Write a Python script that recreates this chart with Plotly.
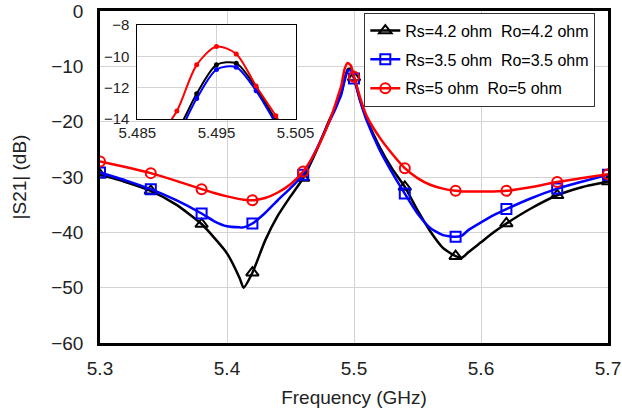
import plotly.graph_objects as go

# ---------------- data ----------------
freq = [5.30, 5.32, 5.34, 5.36, 5.38, 5.39, 5.40, 5.41, 5.413, 5.42, 5.43, 5.44, 5.45, 5.46,
        5.47, 5.48, 5.485, 5.4875, 5.49, 5.4925, 5.495, 5.4975, 5.50, 5.5025, 5.505, 5.51,
        5.52, 5.53, 5.54, 5.55, 5.56, 5.57, 5.58, 5.585, 5.59, 5.60, 5.61, 5.62, 5.64, 5.66,
        5.68, 5.70]

s21_rs42 = [-29.6, -30.9, -32.5, -35.0, -38.5, -41.0, -43.8, -48.3, -50.0, -47.3, -41.5, -37.0,
            -33.5, -30.2, -25.5, -20.0, -17.6, -16.2, -14.8, -12.4, -10.55, -10.45, -12.0, -14.1,
            -16.2, -19.5, -24.5, -28.5, -31.8, -36.0, -39.8, -42.8, -44.3, -44.6, -43.6, -41.8,
            -40.0, -38.4, -35.6, -33.3, -31.8, -30.8]

s21_rs35 = [-29.2, -30.6, -32.2, -34.2, -36.6, -38.0, -38.9, -39.1, -39.1, -38.4, -36.5, -34.2,
            -32.0, -29.6, -25.2, -20.3, -17.9, -16.5, -15.1, -12.7, -10.85, -10.7, -12.2, -14.3,
            -16.4, -19.8, -25.0, -29.2, -33.0, -36.6, -39.2, -40.5, -40.8, -40.6, -39.6, -38.2,
            -36.9, -35.8, -33.8, -32.1, -30.8, -29.6]

s21_rs5 = [-27.2, -28.2, -29.3, -30.7, -32.2, -32.9, -33.5, -34.0, -34.1, -34.2, -33.8, -32.8,
           -31.3, -29.0, -25.3, -20.3, -17.1, -15.3, -13.5, -10.55, -9.38, -9.85, -11.9, -13.8,
           -15.8, -19.0, -22.8, -25.8, -28.4, -30.2, -31.4, -32.1, -32.5, -32.6, -32.6, -32.6,
           -32.6, -32.5, -31.8, -30.9, -30.2, -29.5]

marker_freq = [5.30, 5.34, 5.38, 5.42, 5.46, 5.50, 5.54, 5.58, 5.62, 5.66, 5.70]

series_names = ["Rs=4.2 ohm  Ro=4.2 ohm", "Rs=3.5 ohm  Ro=3.5 ohm", "Rs=5 ohm  Ro=5 ohm"]
series_values = [s21_rs42, s21_rs35, s21_rs5]
series_colors = ["#000000", "#0000ff", "#ff0000"]
series_symbols = ["triangle-up-open", "square-open", "circle-open"]
series_sizes = [11, 10, 10]

x_ticks = [5.3, 5.4, 5.5, 5.6, 5.7]
y_ticks = [0, -10, -20, -30, -40, -50, -60]
inset_x_ticks = [5.485, 5.495, 5.505]
inset_y_ticks = [-8, -10, -12, -14]

FONT = "Liberation Sans, Arial, sans-serif"

fig = go.Figure()

for name, vals, col, sym, ms in zip(series_names, series_values, series_colors,
                                     series_symbols, series_sizes):
    lookup = {round(f, 4): v for f, v in zip(freq, vals)}
    mk_y = [lookup[round(f, 4)] for f in marker_freq]
    # main curve
    fig.add_trace(go.Scatter(x=freq, y=vals, mode="lines", legendgroup=name, showlegend=False,
                             line=dict(color=col, width=2.5, shape="spline", smoothing=0.6),
                             xaxis="x", yaxis="y", hoverinfo="skip"))
    # markers
    fig.add_trace(go.Scatter(x=marker_freq, y=mk_y, mode="markers", legendgroup=name,
                             showlegend=False,
                             marker=dict(symbol=sym, size=ms, color=col, line=dict(width=2, color=col)),
                             xaxis="x", yaxis="y"))
    # legend entry
    fig.add_trace(go.Scatter(x=[None], y=[None], mode="lines+markers", name=name, legendgroup=name,
                             line=dict(color=col, width=2.5),
                             marker=dict(symbol=sym, size=ms, color=col, line=dict(width=2, color=col)),
                             xaxis="x", yaxis="y"))

# inset (zoom of the resonance)
for name, vals, col in zip(series_names, series_values, series_colors):
    fig.add_trace(go.Scatter(x=freq, y=vals, mode="lines+markers", legendgroup=name, showlegend=False,
                             line=dict(color=col, width=2, shape="spline", smoothing=0.8),
                             marker=dict(size=5, color=col), cliponaxis=True,
                             xaxis="x2", yaxis="y2"))

grid = "#d3d3d3"
fig.update_layout(
    width=622, height=412,
    margin=dict(l=100, r=14, t=11, b=69, autoexpand=False),
    paper_bgcolor="white", plot_bgcolor="white",
    font=dict(family=FONT, size=19, color="#222"),
    showlegend=True,
    legend=dict(x=0.975, xanchor="right", y=0.995, yanchor="top", bgcolor="white",
                bordercolor="#333", borderwidth=1, font=dict(size=16, color="#000"),
                tracegroupgap=5),
    xaxis=dict(domain=[0, 1], range=[5.3, 5.7], tickvals=x_ticks, tickformat=".1f",
               showgrid=True, gridcolor=grid, gridwidth=1, zeroline=False, automargin=False,
               showline=True, linecolor="black", linewidth=2.5, mirror=True,
               ticks="", ticklabelstandoff=6, ticklabeloverflow="allow",
               title=dict(text="Frequency (GHz)", standoff=14, font=dict(size=19))),
    yaxis=dict(domain=[0, 1], range=[-60, 0], tickvals=y_ticks, automargin=False,
               showgrid=True, gridcolor=grid, gridwidth=1, zeroline=False,
               showline=True, linecolor="black", linewidth=2.5, mirror=True,
               ticks="", ticklabelstandoff=10, ticklabeloverflow="allow",
               title=dict(text="|S21| (dB)", standoff=20, font=dict(size=19))),
    xaxis2=dict(domain=[0.0735, 0.385], anchor="y2", range=[5.485, 5.505], automargin=False,
                tickvals=inset_x_ticks, tickformat=".3f", tickfont=dict(size=15),
                showgrid=True, gridcolor=grid, zeroline=False,
                showline=True, linecolor="black", linewidth=1, mirror=True, ticks=""),
    yaxis2=dict(domain=[0.675, 0.958], anchor="x2", range=[-14, -8], automargin=False,
                tickvals=inset_y_ticks, tickfont=dict(size=15),
                showgrid=True, gridcolor=grid, zeroline=False,
                showline=True, linecolor="black", linewidth=1, mirror=True, ticks="",
                ticklabelstandoff=4),
)

# remove the default 8px page margin so the figure fills the 622x412 window exactly
fig.write_html("out.html", config={"displayModeBar": False},
               post_script="document.body.style.margin='0px';")
